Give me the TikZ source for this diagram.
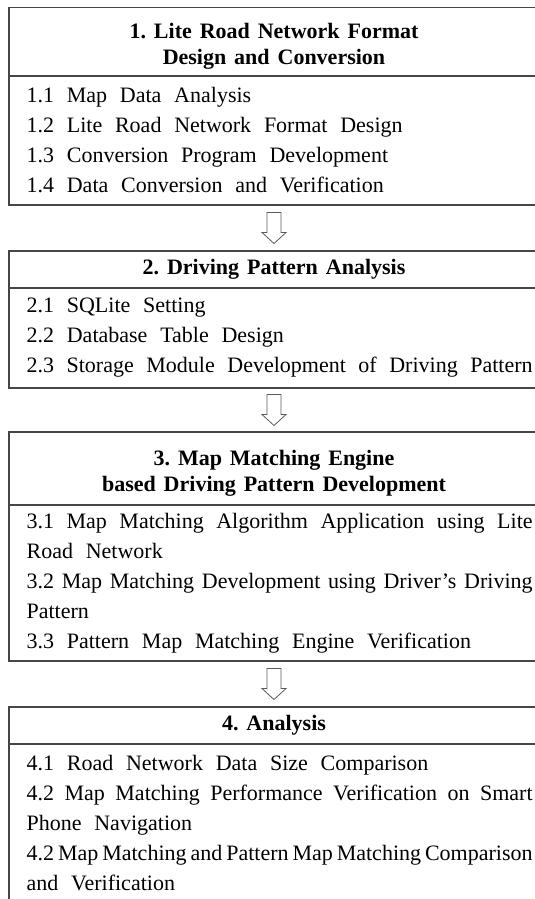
\documentclass[tikz,border=0pt]{standalone}
\usepackage{fontspec}
\setmainfont{Liberation Serif}
\usetikzlibrary{positioning}
\definecolor{FrameGray}{RGB}{70,70,70}
\definecolor{ArrowGray}{RGB}{90,90,90}
\newcommand{\headspace}{\frenchspacing\spaceskip=0.36em plus 0.1em minus 0.1em\relax}
\newcommand{\itemspace}{\frenchspacing\spaceskip=0.58em plus 0.3em minus 0.42em\relax}
\newcommand{\fullline}[1]{\makebox[506pt][s]{#1}}
\newcommand{\toppad}{\rule{0pt}{25pt}}

\begin{document}
\begin{tikzpicture}[x=1pt,y=1pt,
head/.style={rectangle,draw=FrameGray,line width=1.2pt,outer sep=0pt,minimum width=530pt,inner sep=0pt,align=center,
font=\bfseries\fontsize{22}{26}\selectfont,execute at begin node=\headspace},
body/.style={rectangle,draw=FrameGray,line width=1.2pt,outer sep=0pt,text width=506pt,inner xsep=17.6pt,inner ysep=0pt,align=left,anchor=north west,
font=\fontsize{22}{30}\selectfont,execute at begin node=\itemspace},
flow/.style={draw=ArrowGray,line width=0.8pt,line join=miter}
]
\useasboundingbox (0,0) rectangle (535,-899);
\clip (0,0) rectangle (535,-899);

\node[head,minimum height=68.5pt,anchor=north west] (h1) at (9,-7.5) {\toppad 1. Lite Road Network Format\\Design and Conversion};
\node[body,minimum height=129pt] (b1) at (h1.south west) {1.1 Map Data Analysis\\1.2 Lite Road Network Format Design\\1.3 Conversion Program Development\\1.4 Data Conversion and Verification};

\node[head,minimum height=37pt,below=46pt of b1.south west,anchor=north west] (h2) {2. Driving Pattern Analysis};
\node[body,minimum height=100pt] (b2) at (h2.south west) {2.1 SQLite Setting\\2.2 Database Table Design\\\fullline{2.3 Storage Module Development of Driving Pattern}};

\node[head,minimum height=73pt,below=44pt of b2.south west,anchor=north west] (h3) {\toppad 3. Map Matching Engine\\based Driving Pattern Development};
\node[body,minimum height=156pt] (b3) at (h3.south west) {\fullline{3.1 Map Matching Algorithm Application using Lite}\\Road Network\\\fullline{3.2 Map Matching Development using Driver’s Driving}\\Pattern\\3.3 Pattern Map Matching Engine Verification};

\node[head,minimum height=37pt,below=46pt of b3.south west,anchor=north west] (h4) {4. Analysis};
\node[body,minimum height=158pt] (b4) at (h4.south west) {4.1 Road Network Data Size Comparison\\\fullline{4.2 Map Matching Performance Verification on Smart}\\Phone Navigation\\\fullline{4.2 Map Matching and Pattern Map Matching Comparison}\\and Verification};

\path (b1.south -| h1) -- (h2.north) coordinate[midway] (a1);
\path (b2.south -| h2) -- (h3.north) coordinate[midway] (a2);
\path (b3.south -| h3) -- (h4.north) coordinate[midway] (a3);
\foreach \a in {a1,a2,a3}
  \draw[flow] (\a) ++(-7,15.5) -- ++(0,-20) -- ++(-5,0) -- ++(12,-11) -- ++(12,11) -- ++(-5,0) -- ++(0,20) -- cycle;
\end{tikzpicture}
\end{document}
